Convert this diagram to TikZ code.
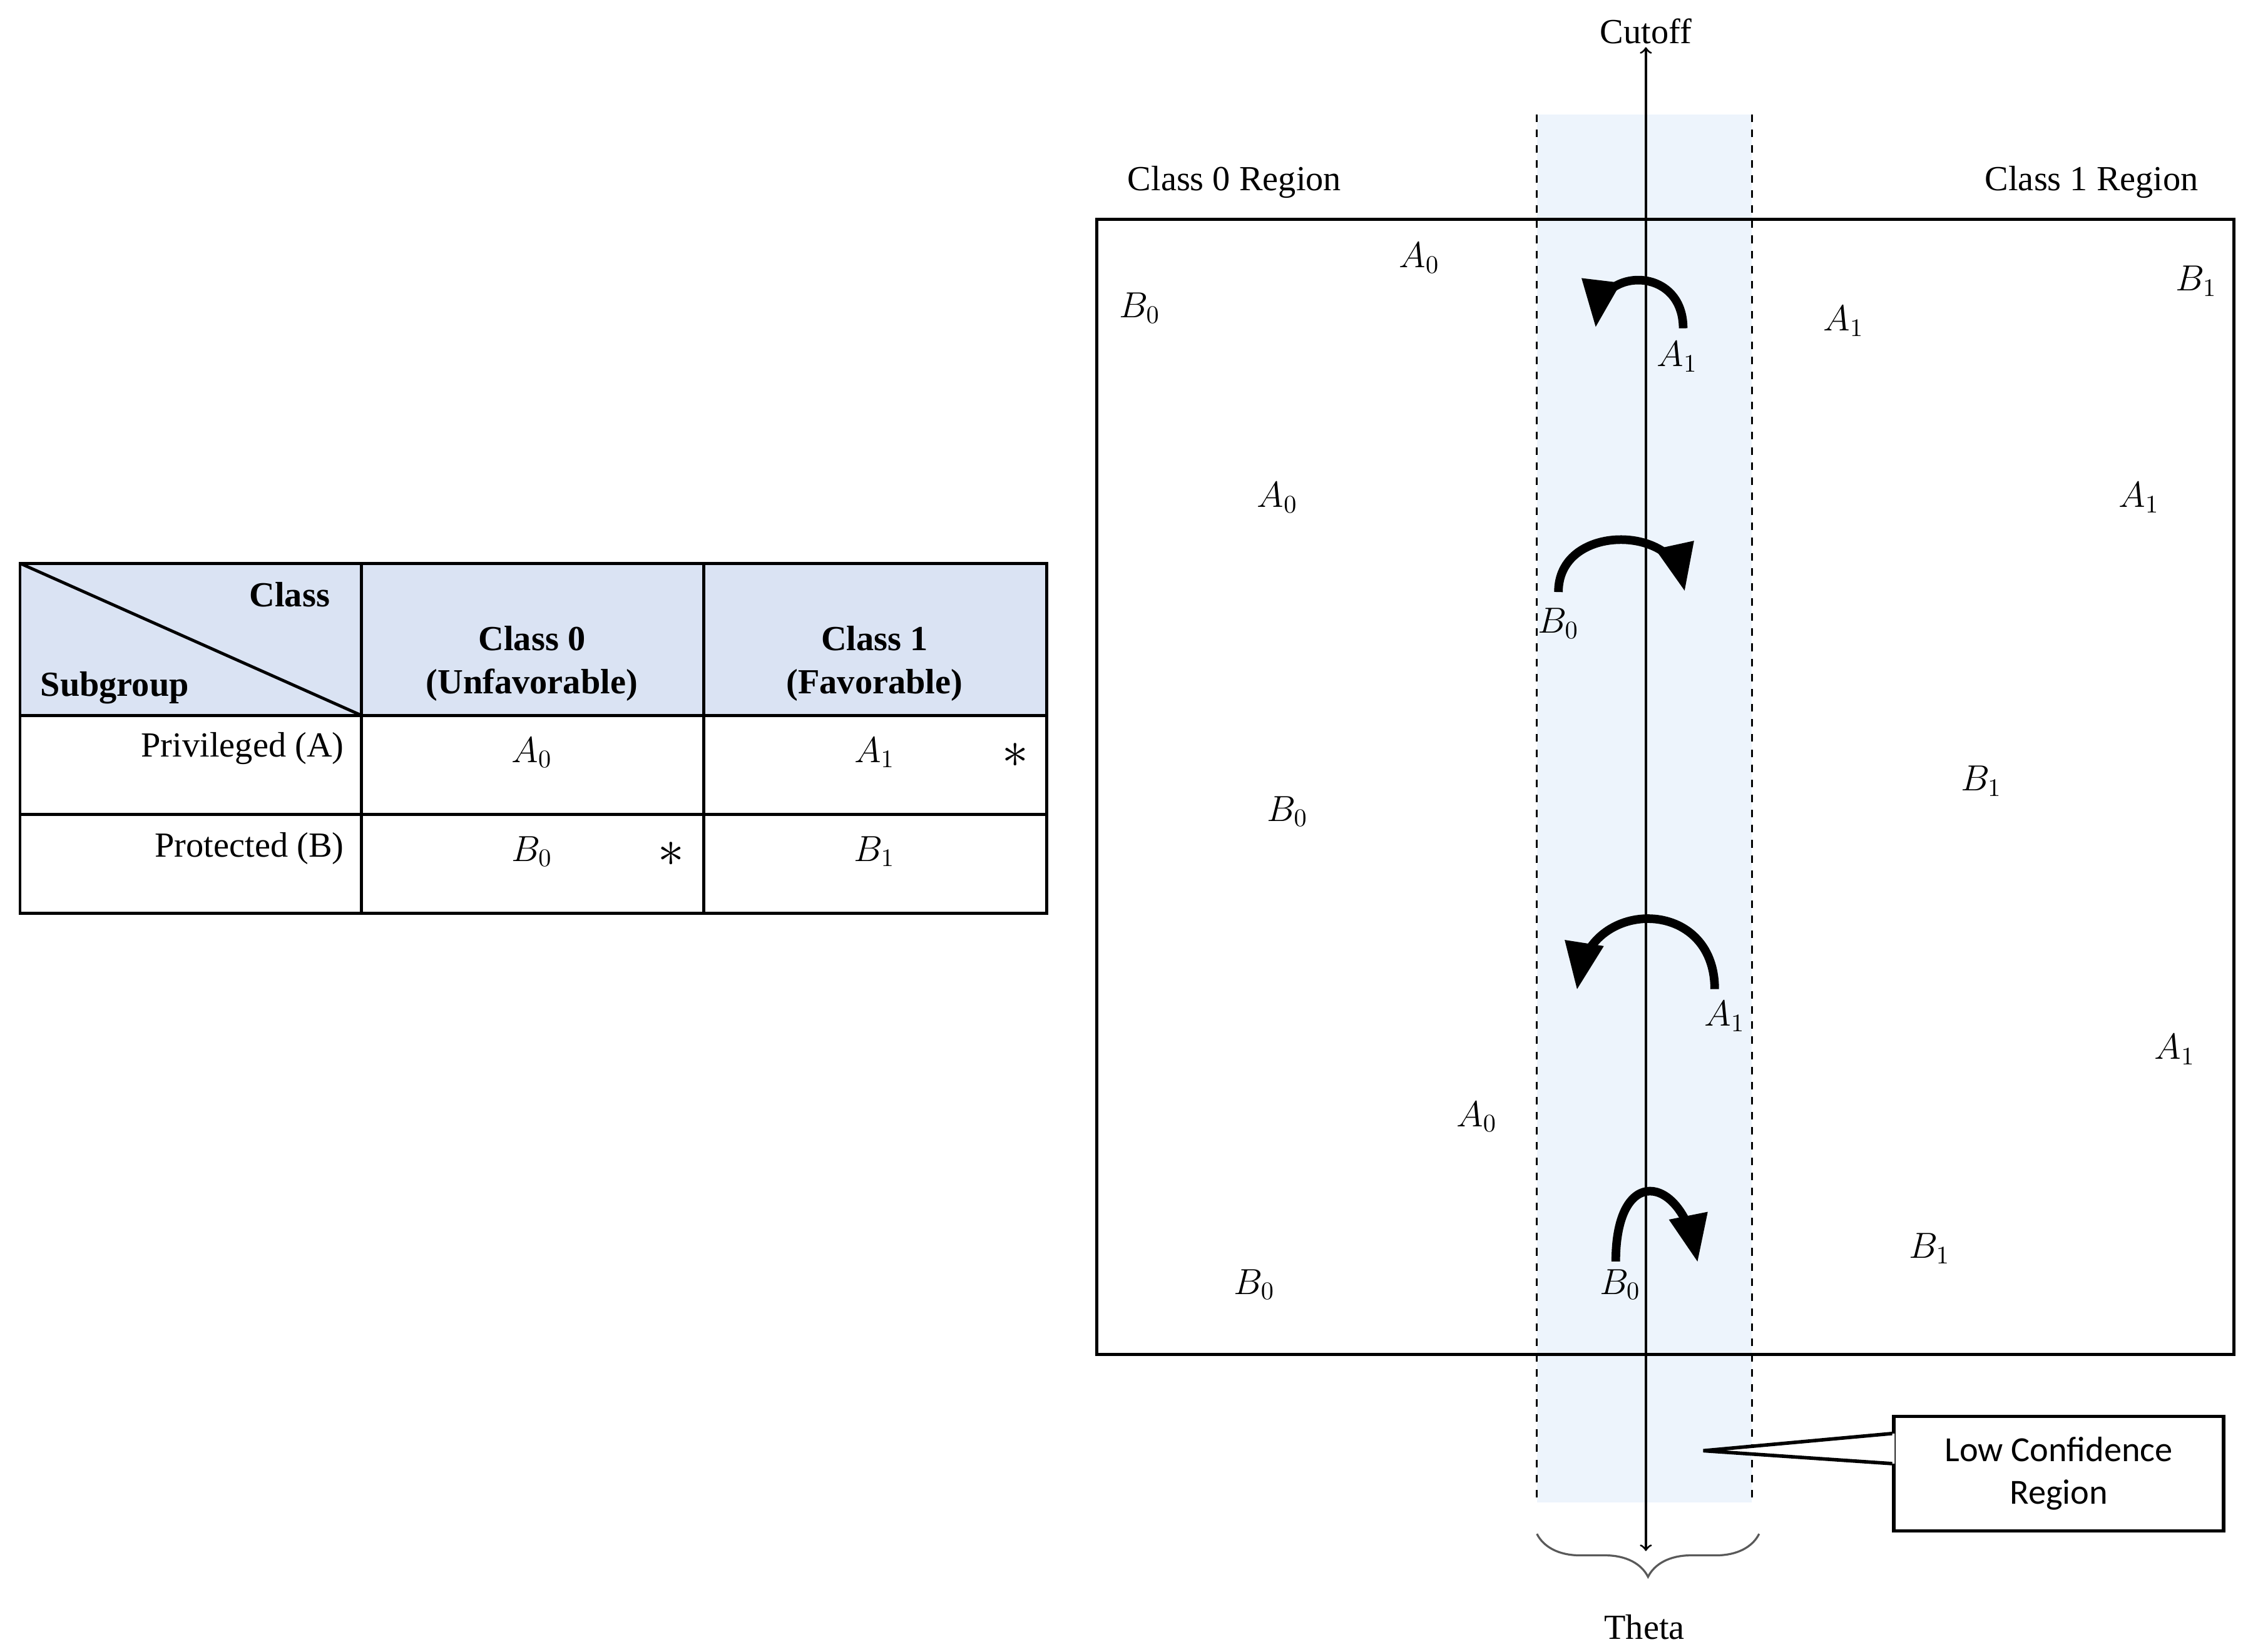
\documentclass[tikz,border=0pt]{standalone}
\usepackage{fontspec}
\setmainfont{Liberation Serif}
\newfontfamily\calibri{Carlito}
\usetikzlibrary{arrows,decorations.pathreplacing}
\definecolor{headblue}{HTML}{DAE3F3}
\definecolor{bandblue}{HTML}{EDF4FC}
\tikzset{
  txt/.style={font=\fontsize{14}{17}\selectfont, inner sep=1pt},
  bold/.style={txt, font=\fontsize{14}{17}\selectfont\bfseries, align=center},
  flip/.style={line width=0.12cm, -triangle 45},
}
\begin{document}
\begin{tikzpicture}[line cap=butt,line join=miter,x=0.02cm,y=-0.02cm]
		\useasboundingbox (0,0) rectangle (1568,1152);
		% table
		\fill [headblue] (14,393) rectangle (730,499);
		\draw [line width=1.2pt] (14,393) rectangle (730,637);
		\draw [line width=1.2pt] (252,393)-- (252,637);
		\draw [line width=1.2pt] (491,393)-- (491,637);
		\draw [line width=1.2pt] (14,499)-- (730,499);
		\draw [line width=1.2pt] (14,568)-- (730,568);
		\draw [line width=1.2pt] (14,393)-- (252,499);
		\node[bold] (hcls) at (202,415) {Class};
		\node[bold] (hsub) at (80,480) {Subgroup};
		\node[bold] (hc0) at (371,463) {Class 0\\(Unfavorable)};
		\node[bold] (hc1) at (610,463) {Class 1\\(Favorable)};
		\node[txt,anchor=east] (rA) at (242,522) {Privileged (A)};
		\node[txt,anchor=east] (rB) at (242,592) {Protected (B)};
		\node[txt] (tA0) at (371,525) {$A_0$};
		\node[txt] (tA1) at (610,525) {$A_1$};
		\node[txt] (sA) at (708,527) {\huge$*$};
		\node[txt] (tB0) at (371,594) {$B_0$};
		\node[txt] (sB) at (468,596) {\huge$*$};
		\node[txt] (tB1) at (610,594) {$B_1$};
		% regions
		\fill [bandblue] (1072,80) rectangle (1222,1048);
		\draw [line width=1.2pt] (765,153) rectangle (1558,945);
		\draw [dashed,line width=0.8pt] (1072,80)-- (1072,1048);
		\draw [dashed,line width=0.8pt] (1222,80)-- (1222,1048);
		\node[txt] (cut) at (1148,22) {Cutoff};
		\coordinate (cbot) at (1148,1082);
		\draw [<->,>=to,line width=0.8pt] (cbot)-- (cut.south);
		\node[txt] (reg0) at (861,127) {Class 0 Region};
		\node[txt] (reg1) at (1459,127) {Class 1 Region};
		\draw [gray!70!black,line width=0.8pt,decorate,decoration={brace,amplitude=0.6cm}] (1227,1070)-- (1072,1070);
		\node[txt] (theta) at (1147,1135) {Theta};
		% callout
		\node[draw,line width=1.4pt,minimum width=4.6cm,minimum height=1.6cm,align=center,font=\calibri\fontsize{14}{17}\selectfont] (low) at (1436,1028) {Low Confidence\\Region};
		\fill [white] (1321.5,1000)-- (1188,1012)-- (1321.5,1021)-- cycle;
		\draw [line width=1.4pt] (low.west |- 0,1000)-- (1188,1012)-- (low.west |- 0,1021);
		% points
		\foreach \p/\x/\y in {A_0/990/180, B_0/795/215, A_1/1286/224, B_1/1532/196, A_1/1170/249,
		  A_0/891/347, A_1/1492/347, B_0/1087/435, B_0/898/566, B_1/1382/545, A_1/1203/709,
		  A_1/1517/732, A_0/1030/779, B_1/1346/871, B_0/875/896, B_0/1130/896}
		  \node[txt] at (\x,\y) {$\p$};
		% flips
		\draw [flip] (1174,229) .. controls (1174,186) and (1118,186) .. (1113,228);
		\draw [flip] (1087,413) .. controls (1087,366) and (1165,366) .. (1175,412);
		\draw [flip] (1196,690) .. controls (1196,626) and (1110,626) .. (1100,690);
		\draw [flip] (1127,880) .. controls (1127,812) and (1172,820) .. (1184,880);
\end{tikzpicture}
\end{document}
